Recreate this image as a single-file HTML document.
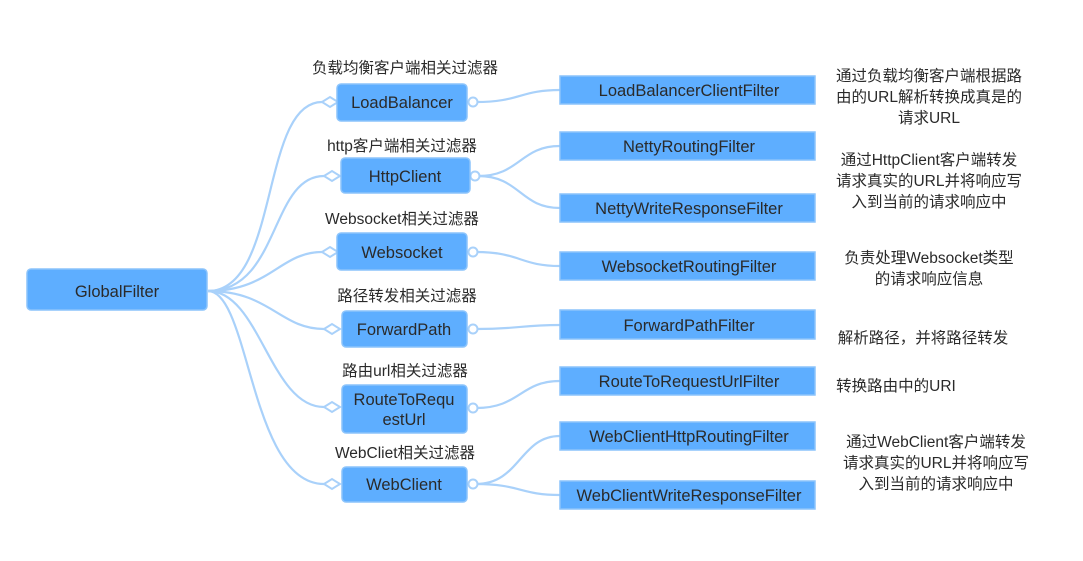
<!DOCTYPE html>
<html><head><meta charset="utf-8"><style>
html,body{margin:0;padding:0;background:#fff;width:1083px;height:561px;overflow:hidden}
svg text{font-family:"Liberation Sans","Noto Sans CJK SC",sans-serif;fill:#2a2a2a}
</style></head><body>
<svg width="1083" height="561" viewBox="0 0 1083 561" xmlns="http://www.w3.org/2000/svg">
<g fill="none" stroke="#a9d1fa" stroke-width="2.2">
<path d="M208 291 C280 291 260 102 322 102"/>
<path d="M208 291 C280 291 270 176 324 176"/>
<path d="M208 291 C270 291 280 252 322 252"/>
<path d="M208 291 C270 291 280 329 324 329"/>
<path d="M208 291 C260 291 270 407 324 407"/>
<path d="M208 291 C250 291 250 484 324 484"/>
<path d="M476 102 C520 102 520 90 560 90"/>
<path d="M478 176 C520 176 520 146 560 146"/>
<path d="M478 176 C520 176 520 208 560 208"/>
<path d="M476 252 C520 252 520 266 560 266"/>
<path d="M476 329 C520 329 520 325 560 325"/>
<path d="M476 408 C520 408 520 381 560 381"/>
<path d="M476 484 C520 484 520 436 560 436"/>
<path d="M476 484 C520 484 520 495 560 495"/>
</g>
<g fill="#fff" stroke="#a9d1fa" stroke-width="2">
<path d="M322 102 l8 -5 l8 5 l-8 5z"/>
<path d="M324 176 l8 -5 l8 5 l-8 5z"/>
<path d="M322 252 l8 -5 l8 5 l-8 5z"/>
<path d="M324 329 l8 -5 l8 5 l-8 5z"/>
<path d="M324 407 l8 -5 l8 5 l-8 5z"/>
<path d="M324 484 l8 -5 l8 5 l-8 5z"/>
<circle cx="473" cy="102" r="4.5"/>
<circle cx="475" cy="176" r="4.5"/>
<circle cx="473" cy="252" r="4.5"/>
<circle cx="473" cy="329" r="4.5"/>
<circle cx="473" cy="408" r="4.5"/>
<circle cx="473" cy="484" r="4.5"/>
</g>
<g fill="#5eaeff" stroke="#8cc4fb" stroke-width="1.5">
<rect x="27" y="269" width="180" height="41" rx="4"/>
<rect x="337" y="84" width="130" height="37" rx="4"/>
<rect x="341" y="158" width="129" height="35" rx="4"/>
<rect x="337" y="233" width="130" height="37" rx="4"/>
<rect x="342" y="311" width="125" height="36" rx="4"/>
<rect x="342" y="385" width="125" height="48" rx="4"/>
<rect x="342" y="467" width="125" height="35" rx="4"/>
<rect x="560" y="76" width="255" height="28"/>
<rect x="560" y="132" width="255" height="28"/>
<rect x="560" y="194" width="255" height="28"/>
<rect x="560" y="252" width="255" height="28"/>
<rect x="560" y="310" width="255" height="29"/>
<rect x="560" y="367" width="255" height="28"/>
<rect x="560" y="422" width="255" height="28"/>
<rect x="560" y="481" width="255" height="28"/>
</g>
<g font-size="16.5" text-anchor="middle">
<text x="117" y="297">GlobalFilter</text>
<text x="402" y="108">LoadBalancer</text>
<text x="405" y="182">HttpClient</text>
<text x="402" y="258">Websocket</text>
<text x="404" y="335">ForwardPath</text>
<text x="404" y="405">RouteToRequ</text>
<text x="404" y="425">estUrl</text>
<text x="404" y="490">WebClient</text>
<text x="689" y="96">LoadBalancerClientFilter</text>
<text x="689" y="152">NettyRoutingFilter</text>
<text x="689" y="214">NettyWriteResponseFilter</text>
<text x="689" y="272">WebsocketRoutingFilter</text>
<text x="689" y="331">ForwardPathFilter</text>
<text x="689" y="387">RouteToRequestUrlFilter</text>
<text x="689" y="442">WebClientHttpRoutingFilter</text>
<text x="689" y="501">WebClientWriteResponseFilter</text>
</g>
<g font-size="15.5" text-anchor="middle">
<text x="405" y="73">负载均衡客户端相关过滤器</text>
<text x="402" y="151">http客户端相关过滤器</text>
<text x="402" y="224">Websocket相关过滤器</text>
<text x="407" y="301">路径转发相关过滤器</text>
<text x="405" y="376">路由url相关过滤器</text>
<text x="405" y="458">WebCliet相关过滤器</text>
<text x="929" y="81">通过负载均衡客户端根据路</text>
<text x="929" y="102">由的URL解析转换成真是的</text>
<text x="929" y="123">请求URL</text>
<text x="929" y="165">通过HttpClient客户端转发</text>
<text x="929" y="186">请求真实的URL并将响应写</text>
<text x="929" y="207">入到当前的请求响应中</text>
<text x="929" y="263">负责处理Websocket类型</text>
<text x="929" y="284">的请求响应信息</text>
<text x="923" y="343">解析路径，并将路径转发</text>
<text x="896" y="391">转换路由中的URI</text>
<text x="936" y="447">通过WebClient客户端转发</text>
<text x="936" y="468">请求真实的URL并将响应写</text>
<text x="936" y="489">入到当前的请求响应中</text>
</g>
</svg>
</body></html>
